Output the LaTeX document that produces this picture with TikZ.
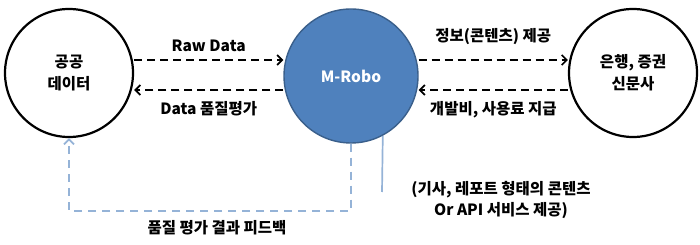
\documentclass[tikz,border=0pt]{standalone}
\usepackage{fontspec}
\setmainfont{Noto Sans CJK KR}
\usetikzlibrary{arrows.meta}
\definecolor{robofill}{HTML}{4F81BD}
\definecolor{roboline}{HTML}{3A5F8B}
\definecolor{feedblue}{HTML}{95B3D7}
\tikzset{
  party/.style={circle, draw=black, line width=2.2pt, minimum size=128pt, align=center, font=\bfseries\fontsize{15.5}{22}\selectfont},
  flow/.style={line width=1.7pt, dash pattern=on 8pt off 5pt, -{Straight Barb[length=5pt,width=10pt,line width=1.7pt]}},
  tag/.style={font=\bfseries\fontsize{15.5}{21}\selectfont}
}
\begin{document}
\begin{tikzpicture}[x=1pt, y=-1pt]
    \useasboundingbox (0,0) rectangle (700,245);

    % Circles
    \node[party] (pub) at (69,73) {공공\\데이터};
    \node[circle, fill=robofill, draw=roboline, line width=1.4pt, minimum size=134pt,
          text=white, font=\bfseries\fontsize{15.5}{17}\selectfont] (robo) at (351,76) {M-Robo};
    \node[party] (firm) at (633,73) {은행, 증권\\신문사};

    % Data exchange (left)
    \draw[flow] ([yshift=13pt]pub.east) -- ([yshift=16pt]robo.west)
        node[midway, above=4pt, tag] {Raw Data};
    \draw[flow] ([yshift=-14pt]robo.west) -- ([yshift=-17pt]pub.east)
        node[midway, below=7pt, tag] {Data 품질평가};

    % Content exchange (right)
    \draw[flow] ([yshift=16pt]robo.east) -- ([yshift=13pt]firm.west)
        node[midway, above=11pt, tag] {정보(콘텐츠) 제공};
    \draw[flow] ([yshift=-17pt]firm.west) -- ([yshift=-14pt]robo.east)
        node[midway, below=7pt, tag] {개발비, 사용료 지급};

    % Feedback loop
    \draw[feedblue, line width=1.7pt, dash pattern=on 8pt off 6pt,
          -{Straight Barb[length=5pt,width=10pt,line width=1.7pt]}]
        (robo.south) -- ++(0,67) -| (pub.south);
    \node[tag] (fb) at (217,228) {품질 평가 결과 피드백};

    % Callout
    \coordinate (noteend) at (382,192);
    \draw[feedblue, line width=1.7pt] (robo.-62) -- (noteend);
    \node[tag, align=center] (note) at (501,200) {(기사, 레포트 형태의 콘텐츠\\Or API 서비스 제공)};
\end{tikzpicture}
\end{document}
